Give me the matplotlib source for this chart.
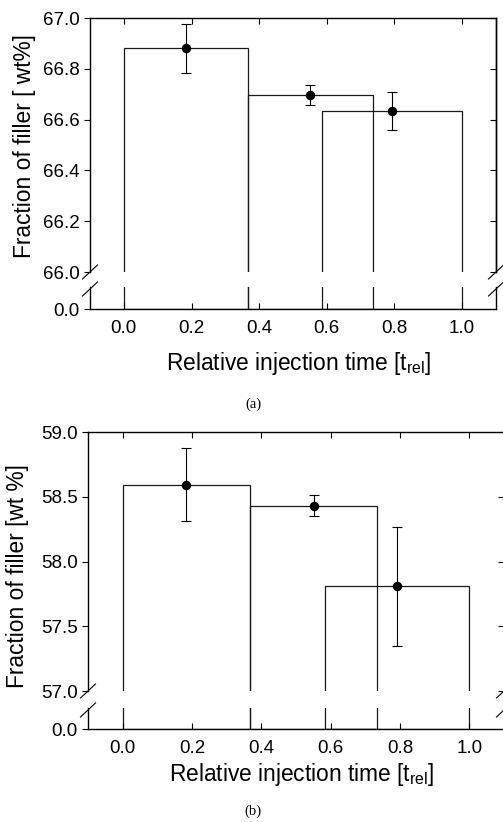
import matplotlib.pyplot as plt
from matplotlib.lines import Line2D

plt.rcParams['font.family'] = ['Liberation Sans', 'DejaVu Sans']

# bar edges along relative injection time (same for both samples)
bar_left = [0.0, 0.366, 0.585]
bar_right = [0.366, 0.735, 1.0]
point_x = [0.184, 0.551, 0.792]
x_ticks = [0.0, 0.2, 0.4, 0.6, 0.8, 1.0]

# sample (a)
frac_a = [66.88, 66.697, 66.635]
err_a = [0.095, 0.039, 0.074]
yticks_a = [66.0, 66.2, 66.4, 66.6, 66.8, 67.0]

# sample (b)
frac_b = [58.594, 58.43, 57.807]
err_b = [0.282, 0.082, 0.462]
yticks_b = [57.0, 57.5, 58.0, 58.5, 59.0]

W, H = 503, 822
fig = plt.figure(figsize=(W / 100, H / 100), dpi=100)


def rect(x0, x1, ytop, ybot):
    # pixel box -> figure fraction
    return [x0 / W, 1 - ybot / H, (x1 - x0) / W, (ybot - ytop) / H]


def slash(xc, yc, dx=7.5, dy=7):
    fig.add_artist(Line2D([(xc - dx) / W, (xc + dx) / W],
                          [1 - (yc + dy) / H, 1 - (yc - dy) / H],
                          color='black', lw=0.8))


def panel(left, right, top, brk_top, brk_bot, bottom, vals, errs, yticks, ylab,
          ylab_x, ylab_y, xlab_y, caption_y, cap):
    up = fig.add_axes(rect(left, right, top, brk_top))
    lo = fig.add_axes(rect(left, right, brk_bot, bottom))
    widths = [r - l for l, r in zip(bar_left, bar_right)]
    for ax in (up, lo):
        ax.bar(bar_left, vals, width=widths, align='edge', fill=False,
               edgecolor='#1a1a1a', linewidth=0.9)
        ax.set_xlim(-0.1, 1.1)
        for s in ax.spines.values():
            s.set_linewidth(1.0)
        ax.tick_params(axis='x', direction='in', length=4, width=0.8)
        ax.tick_params(axis='y', direction='out', length=4, width=0.8,
                       labelsize=13.5)
        ax.set_xticks(x_ticks)
    up.errorbar(point_x, vals, yerr=errs, fmt='o', color='black', ms=5.8,
                elinewidth=0.8, capsize=3.4, capthick=0.8)
    up.set_ylim(yticks[0], yticks[-1])
    up.set_yticks(yticks)
    up.set_yticklabels([f'{v:.1f}' for v in yticks])
    up.spines['bottom'].set_visible(False)
    up.tick_params(axis='x', bottom=False, top=True, labelbottom=False)
    # inward ticks on the right-hand side
    sec = up.secondary_yaxis('right')
    sec.set_yticks(yticks)
    sec.tick_params(direction='in', length=4, width=0.8, labelright=False)
    sec.spines['right'].set_linewidth(1.0)
    lo.set_ylim(0, 1)
    lo.set_yticks([0.0])
    lo.set_yticklabels(['0.0'])
    lo.spines['top'].set_visible(False)
    lo.tick_params(axis='x', top=False, labelsize=13.5, pad=8)
    lo.set_xticklabels([f'{v:.1f}' for v in x_ticks])
    # axis break marks
    for xc in (left, right):
        slash(xc, brk_top)
        slash(xc, brk_bot + 2)
    fig.text((left + right) / 2 / W + 0.012, 1 - xlab_y / H,
             r'Relative injection time [t$_\mathregular{rel}$]',
             fontsize=16.4, ha='center', va='center')
    fig.text(ylab_x / W, 1 - ylab_y / H, ylab, rotation=90, fontsize=16.4,
             ha='center', va='center')
    fig.text(253 / W, 1 - caption_y / H, cap, fontsize=10.5,
             family='Liberation Serif', ha='center', va='center')


panel(90, 496, 18, 272, 287, 309, frac_a, err_a, yticks_a,
      'Fraction of filler [ wt%]', 25, 146, 363, 404, '(a)')
panel(88, 504, 432, 691, 708, 729, frac_b, err_b, yticks_b,
      'Fraction of filler [wt %]', 18, 576, 774, 811, '(b)')

fig.savefig('out.png', dpi=100)
